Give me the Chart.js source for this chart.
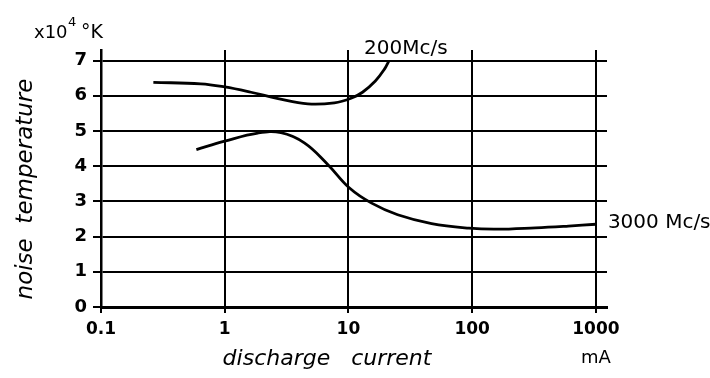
<!DOCTYPE html>
<html>
<head>
<meta charset="utf-8">
<script src="https://cdn.jsdelivr.net/npm/chart.js@4"></script>
<style>
  html, body { margin: 0; padding: 0; background: #fff; }
  #wrap { width: 710px; height: 378px; }
</style>
</head>
<body>
<div id="wrap"><canvas id="chart" width="710" height="378"></canvas></div>
<script>
// tick values
const xTicks = [0.1, 1, 10, 100, 1000];
const yTicks = [0, 1, 2, 3, 4, 5, 6, 7];

// 200 Mc/s curve (discharge current mA, noise temperature x10^4 K)
const curve200X = [0.265, 0.64, 1.0, 1.63, 2.7, 4.7, 7.7, 10.5, 13, 16.5, 19.5, 21.3];
const curve200Y = [6.38, 6.34, 6.25, 6.1, 5.92, 5.77, 5.8, 5.93, 6.1, 6.42, 6.75, 7.0];

// 3000 Mc/s curve
const curve3000X = [0.59, 1.0, 1.85, 2.85, 4.4, 6.8, 10.2, 15.4, 25, 47, 94, 155, 325, 600, 1000];
const curve3000Y = [4.47, 4.71, 4.94, 4.95, 4.66, 4.05, 3.38, 2.95, 2.62, 2.37, 2.24, 2.21, 2.25, 2.3, 2.35];

const toPoints = (xs, ys) => xs.map((x, i) => ({ x: x, y: ys[i] }));

const font = '"DejaVu Sans", sans-serif';

// draws axis titles, unit and curve labels
const textPlugin = {
  id: 'texts',
  afterDraw(chart) {
    const ctx = chart.ctx;
    const xs = chart.scales.x, ys = chart.scales.y;
    ctx.save();
    ctx.fillStyle = '#000';
    ctx.textBaseline = 'alphabetic';

    // unit above y axis
    ctx.font = '18px ' + font;
    ctx.textAlign = 'left';
    ctx.fillText('x10', 34, 38);
    ctx.font = '13px ' + font;
    ctx.fillText('4', 68, 26);
    ctx.font = '19px ' + font;
    ctx.fillText('°K', 81, 38);

    // y title
    ctx.save();
    ctx.translate(32, 189);
    ctx.rotate(-Math.PI / 2);
    ctx.font = 'italic 23px ' + font;
    ctx.textAlign = 'center';
    ctx.fillText('noise  temperature', 0, 0);
    ctx.restore();

    // x title and unit
    ctx.font = 'italic 22px ' + font;
    ctx.textAlign = 'center';
    ctx.fillText('discharge   current', 327, 365);
    ctx.font = '18px ' + font;
    ctx.fillText('mA', xs.getPixelForValue(1000), 363);

    // curve labels
    const e200 = curve200X.length - 1;
    const e3000 = curve3000X.length - 1;
    ctx.font = '20px ' + font;
    ctx.textAlign = 'left';
    ctx.fillText('200Mc/s', xs.getPixelForValue(curve200X[e200]) - 25, ys.getPixelForValue(curve200Y[e200]) - 7);
    ctx.textBaseline = 'middle';
    ctx.fillText('3000 Mc/s', xs.getPixelForValue(curve3000X[e3000]) + 12, ys.getPixelForValue(curve3000Y[e3000]) - 1);
    ctx.restore();
  }
};

new Chart(document.getElementById('chart'), {
  type: 'line',
  data: {
    datasets: [
      {
        label: '200 Mc/s',
        data: toPoints(curve200X, curve200Y),
        borderColor: '#000',
        borderWidth: 2.8,
        pointRadius: 0,
        tension: 0.4,
        fill: false
      },
      {
        label: '3000 Mc/s',
        data: toPoints(curve3000X, curve3000Y),
        borderColor: '#000',
        borderWidth: 2.8,
        pointRadius: 0,
        tension: 0.4,
        fill: false
      }
    ]
  },
  options: {
    responsive: false,
    animation: false,
    layout: { padding: { left: 0, top: 50, right: 103, bottom: 0 } },
    plugins: { legend: { display: false }, tooltip: { enabled: false } },
    scales: {
      x: {
        type: 'logarithmic',
        min: 0.1,
        max: 1230,
        afterBuildTicks: s => { s.ticks = xTicks.map(v => ({ value: v })); },
        afterFit: s => { s.height = 71; },
        grid: { color: '#000', lineWidth: 2, tickLength: 6, drawTicks: true },
        border: { color: '#000', width: 3 },
        ticks: {
          color: '#000',
          padding: 6,
          font: { family: font, size: 17, weight: 'bold' },
          callback: v => String(v),
          maxRotation: 0,
          autoSkip: false
        }
      },
      y: {
        min: 0,
        max: 7.3,
        afterBuildTicks: s => { s.ticks = yTicks.map(v => ({ value: v })); },
        afterFit: s => { s.width = 101; },
        grid: { color: '#000', lineWidth: 2, tickLength: 8, drawTicks: true },
        border: { color: '#000', width: 2.5 },
        ticks: {
          color: '#000',
          padding: 6,
          font: { family: font, size: 18, weight: 'bold' },
          callback: v => String(v)
        }
      }
    }
  },
  plugins: [textPlugin]
});
</script>
</body>
</html>
